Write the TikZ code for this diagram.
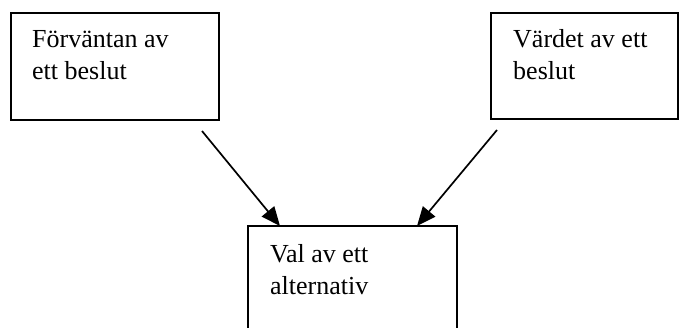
\documentclass[tikz,border=0pt]{standalone}
\usepackage{fontspec}
\setmainfont{Liberation Serif}
\usetikzlibrary{arrows.meta,calc}
\begin{document}
\begin{tikzpicture}[x=1pt,y=-1pt,
  box/.style={draw=black,line width=2pt,rectangle,inner sep=0pt,outer sep=0pt,anchor=north west},
  label/.style={anchor=north west,inner sep=0pt,align=left,font=\fontsize{26}{32}\selectfont},
  conn/.style={line width=1.7pt,-{Triangle[length=19pt,width=16pt]}}]
\useasboundingbox (0,0) rectangle (679,327);
\clip (0,0) rectangle (679,327);
\node[box,minimum width=208pt,minimum height=107pt] (a) at (11,13) {};
\node[box,minimum width=187pt,minimum height=106pt] (b) at (491,13) {};
\node[box,minimum width=209pt,minimum height=114pt] (c) at (248,226) {};
\node[label] (ta) at (32,24.6) {\strut Förväntan av\\\strut ett beslut};
\node[label] (tb) at (513,24.6) {\strut Värdet av ett\\\strut beslut};
\node[label] (tc) at (270,239.6) {\strut Val av ett\\\strut alternativ};
\coordinate (a1) at (202,131);
\coordinate (b1) at (497,130);
\draw[conn] (a1) -- ($(c.north west)+(32,0)$);
\draw[conn] (b1) -- ($(c.north west)+(169,0)$);
\end{tikzpicture}
\end{document}
